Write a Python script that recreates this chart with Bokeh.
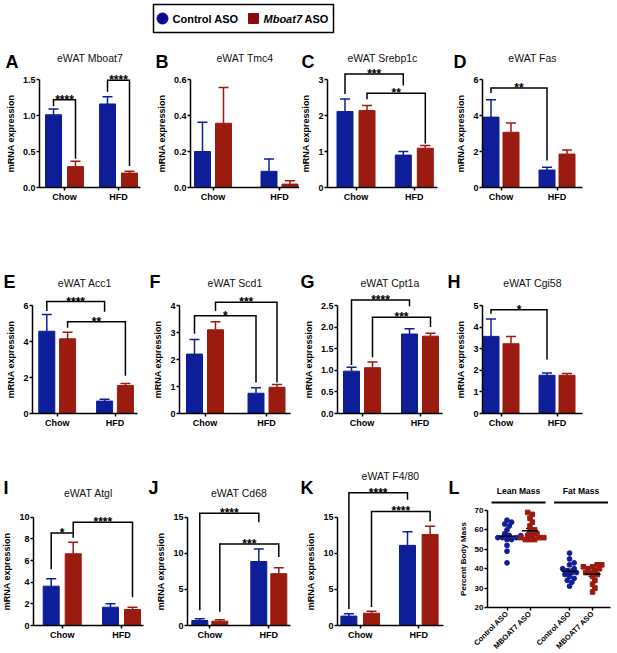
import math
from bokeh.plotting import figure
from bokeh.layouts import row, column
from bokeh.models import (Range1d, FixedTicker, NumeralTickFormatter, Label,
                          Whisker, TeeHead, ColumnDataSource)
from bokeh.core.properties import value
from bokeh.embed import file_html
from bokeh.resources import INLINE

FONT = "Liberation Sans"
FONT_V = value(FONT)
BLUE = "#0E1E98"
RED = "#9B1B10"

# ---------------- data ----------------
groups = ["Chow", "HFD"]
series = ["Control ASO", "Mboat7 ASO"]

mboat7_ctrl = [1.01, 1.16]; mboat7_ctrl_err = [0.08, 0.10]
mboat7_aso = [0.29, 0.20];  mboat7_aso_err = [0.075, 0.025]
tmc4_ctrl = [0.20, 0.09];   tmc4_ctrl_err = [0.163, 0.068]
tmc4_aso = [0.357, 0.019];  tmc4_aso_err = [0.198, 0.018]
srebp_ctrl = [2.11, 0.90];  srebp_ctrl_err = [0.35, 0.10]
srebp_aso = [2.14, 1.09];   srebp_aso_err = [0.14, 0.08]
fas_ctrl = [3.91, 0.97];    fas_ctrl_err = [0.96, 0.15]
fas_aso = [3.07, 1.86];     fas_aso_err = [0.52, 0.22]
acc1_ctrl = [4.57, 0.69];   acc1_ctrl_err = [0.93, 0.10]
acc1_aso = [4.15, 1.55];    acc1_aso_err = [0.37, 0.11]
scd1_ctrl = [2.20, 0.75];   scd1_ctrl_err = [0.54, 0.20]
scd1_aso = [3.10, 0.97];    scd1_aso_err = [0.30, 0.10]
cpt1a_ctrl = [0.98, 1.84];  cpt1a_ctrl_err = [0.09, 0.12]
cpt1a_aso = [1.06, 1.79];   cpt1a_aso_err = [0.13, 0.07]
cgi58_ctrl = [3.57, 1.77];  cgi58_ctrl_err = [0.81, 0.11]
cgi58_aso = [3.23, 1.77];   cgi58_aso_err = [0.34, 0.08]
atgl_ctrl = [3.63, 1.69];   atgl_ctrl_err = [0.68, 0.31]
atgl_aso = [6.62, 1.48];    atgl_aso_err = [1.07, 0.21]
cd68_ctrl = [0.69, 8.86];   cd68_ctrl_err = [0.23, 1.74]
cd68_aso = [0.60, 7.18];    cd68_aso_err = [0.18, 0.82]
f480_ctrl = [1.30, 11.10];  f480_ctrl_err = [0.32, 1.90]
f480_aso = [1.70, 12.60];   f480_aso_err = [0.29, 1.15]

# significance brackets: (group a, series a, group b, series b, bracket y, leg a end, leg b end, label)
br_mboat7 = [("Chow", 0, "Chow", 1, 1.22, 1.13, 0.40, "****"),
             ("HFD", 0, "HFD", 1, 1.49, 1.33, 0.30, "****")]
br_tmc4 = []
br_srebp = [("Chow", 0, "HFD", 0, 3.15, 2.60, 2.83, "***"),
            ("Chow", 1, "HFD", 1, 2.62, 2.45, 1.22, "**")]
br_fas = [("Chow", 0, "HFD", 0, 5.53, 5.25, 1.50, "**")]
br_acc1 = [("Chow", 0, "HFD", 0, 6.22, 5.70, 5.65, "****"),
           ("Chow", 1, "HFD", 1, 5.10, 4.76, 2.10, "**")]
br_scd1 = [("Chow", 0, "HFD", 0, 3.62, 2.95, 1.15, "*"),
           ("Chow", 1, "HFD", 1, 4.12, 3.80, 1.15, "***")]
br_cpt1a = [("Chow", 0, "HFD", 0, 2.63, 1.12, 2.48, "****"),
            ("Chow", 1, "HFD", 1, 2.23, 1.30, 2.00, "***")]
br_cgi58 = [("Chow", 0, "HFD", 0, 4.80, 4.62, 2.50, "*")]
br_atgl = [("Chow", 0, "Chow", 1, 8.55, 5.20, 8.10, "*"),
           ("Chow", 1, "HFD", 1, 9.54, 8.55, 2.60, "****")]
br_cd68 = [("Chow", 0, "HFD", 0, 15.56, 2.10, 14.30, "****"),
           ("Chow", 1, "HFD", 1, 11.30, 1.90, 9.50, "***")]
br_f480 = [("Chow", 0, "HFD", 0, 18.40, 2.30, 17.40, "****"),
           ("Chow", 1, "HFD", 1, 15.80, 2.55, 14.40, "****")]

ticks_mboat7 = [0, 0.5, 1.0, 1.5]
ticks_tmc4 = [0, 0.2, 0.4, 0.6]
ticks_srebp = [0, 1, 2, 3]
ticks_fas = [0, 2, 4, 6]
ticks_acc1 = [0, 2, 4, 6]
ticks_scd1 = [0, 1, 2, 3, 4]
ticks_cpt1a = [0, 0.5, 1.0, 1.5, 2.0, 2.5]
ticks_cgi58 = [0, 1, 2, 3, 4, 5]
ticks_atgl = [0, 2, 4, 6, 8, 10]
ticks_cd68 = [0, 5, 10, 15]
ticks_f480 = [0, 5, 10, 15]

# body composition (percent body mass)
comp_groups = ["Lean Mass", "Fat Mass"]
comp_series = ["Control ASO", "MBOAT7 ASO"]
lean_ctrl = [65, 64, 63, 62, 60, 58, 57, 57, 56, 56, 56, 55, 55, 52, 49, 43]
lean_mb = [69, 68, 66, 64, 62, 60, 59, 58, 57, 57, 56, 56, 56, 55, 55, 55]
fat_ctrl = [48, 45, 43, 42, 40, 40, 39, 38, 38, 37, 36, 35, 34, 33, 31]
fat_mb = [42, 42, 41, 41, 40, 40, 39, 38, 38, 37, 36, 34, 32, 30, 28]
comp_ticks = [20, 30, 40, 50, 60, 70]

# ---------------- layout geometry (pixels, page coordinates) ----------------
COL_EDGES = [0, 147, 299, 446, 612]
ROWS = {
    1: dict(top=44, h=214, tick_top=79, zero=187, title=57, letter=61.5),
    2: dict(top=258, h=202, tick_top=305, zero=413, title=282, letter=281),
    3: dict(top=460, h=191, tick_top=516.7, zero=625, title=492, letter=487.5),
}
BAR_W = 16


def style_axis(ax, size="9px"):
    ax.axis_line_width = 1.5
    ax.axis_line_color = "black"
    ax.major_tick_line_width = 1.5
    ax.major_tick_line_color = "black"
    ax.major_tick_out = 3
    ax.major_tick_in = 0
    ax.minor_tick_line_color = None
    ax.major_label_text_font = FONT
    ax.major_label_text_font_style = "bold"
    ax.major_label_text_font_size = size
    ax.major_label_text_color = "black"
    ax.major_label_standoff = 1
    ax.axis_label_text_font = FONT
    ax.axis_label_text_font_style = "bold"
    ax.axis_label_text_font_size = size
    ax.axis_label_text_color = "black"
    ax.axis_label_standoff = 4


def base_fig(W, H, xr, yr):
    p = figure(width=W, height=H, x_range=Range1d(*xr), y_range=Range1d(*yr),
               title=None, toolbar_location=None, output_backend="svg",
               min_border_left=0, min_border_right=0, min_border_top=0, min_border_bottom=0)
    p.outline_line_color = None
    p.xgrid.visible = False
    p.ygrid.visible = False
    return p


def letter_label(x, y, text):
    return Label(x=x, y=y, text=text, text_align="left", text_baseline="middle",
                 text_font=FONT, text_font_style="bold", text_font_size="18px",
                 text_color="black")


def bar_panel(letter, title, ctrl, ctrl_err, aso, aso_err, yticks, fmt, brackets,
              geo, rownum, col, letter_x, title_y=None):
    rg = ROWS[rownum]
    pl, pr = COL_EDGES[col], COL_EDGES[col + 1]
    top, H = rg["top"], rg["h"]
    L, R, cc, hc, d = geo
    u = hc - cc
    tmax = yticks[-1]
    ppu = (rg["zero"] - rg["tick_top"]) / tmax

    def X(px):
        return (px - cc) / u

    def Y(py):
        return (rg["zero"] - py) / ppu

    p = base_fig(pr - pl, H, (X(pl), X(pr)), (Y(top + H), Y(top)))
    style_axis(p.xaxis[0])
    style_axis(p.yaxis[0])
    p.yaxis.fixed_location = X(L)
    p.yaxis.bounds = (0, tmax)
    p.yaxis.ticker = FixedTicker(ticks=yticks)
    p.yaxis.formatter = NumeralTickFormatter(format=fmt)
    p.yaxis.axis_label = "mRNA expression"
    p.xaxis.fixed_location = 0
    p.xaxis.bounds = (X(L), X(R))
    p.xaxis.ticker = FixedTicker(ticks=list(range(len(groups))))
    p.xaxis.major_label_overrides = {i: g for i, g in enumerate(groups)}

    off = d / u
    bw = BAR_W / u

    def sx(gname, s):
        return groups.index(gname) + (-off if s == 0 else off)

    for s, (means, errs, color) in enumerate([(ctrl, ctrl_err, BLUE), (aso, aso_err, RED)]):
        xs = [sx(g, s) for g in groups]
        src = ColumnDataSource(dict(x=xs, top=means,
                                    upper=[m + e for m, e in zip(means, errs)]))
        p.add_layout(Whisker(source=src, base="x", upper="upper", lower="top",
                             dimension="height", line_color=color, line_width=1.5,
                             upper_head=TeeHead(size=10, line_color=color, line_width=1.5),
                             lower_head=None))
        p.vbar(x="x", top="top", bottom=0, width=bw, source=src,
               fill_color=color, line_color=color, line_width=1)

    for (ga, sa, gb, sb, yl, ya, yb, lab) in brackets:
        xa, xb = sx(ga, sa), sx(gb, sb)
        p.multi_line(xs=[[xa, xa, xb, xb]], ys=[[ya, yl, yl, yb]],
                     line_color="black", line_width=1.5, line_join="miter")
        p.text(x=[(xa + xb) / 2], y=[yl], text=[lab], text_align="center",
               text_baseline="alphabetic", text_font=FONT_V, text_font_style="bold",
               text_font_size="12px", text_color="black")

    ty = rg["title"] if title_y is None else title_y
    p.add_layout(Label(x=X((L + R) / 2), y=Y(ty), text=title,
                       text_align="center", text_baseline="middle",
                       text_font=FONT, text_font_size="10.5px", text_color="#111111"))
    p.add_layout(letter_label(X(max(letter_x, pl + 1)), Y(rg["letter"]), letter))
    return p


def swarm(vals, ppu_y, ppu_x, step, mind):
    placed = []
    offs = [0.0] * len(vals)
    order = sorted(range(len(vals)), key=lambda i: vals[i])
    cands = [0.0]
    for j in range(1, 30):
        cands += [j * step, -j * step]
    for i in order:
        y = vals[i] * ppu_y
        chosen = cands[-1]
        for cx in cands:
            if all((cx - px) ** 2 + (y - py) ** 2 >= mind ** 2 for px, py in placed):
                chosen = cx
                break
        placed.append((chosen, y))
        offs[i] = chosen / ppu_x
    return offs


def comp_panel():
    rg = ROWS[3]
    pl, pr = COL_EDGES[3], COL_EDGES[4]
    top, H = rg["top"], rg["h"]
    L, R = 487, 610
    first_tick, unit = 506.5, 23.0
    gap = 2.72
    top_px, zero_px = 510, 607
    lo, hi = comp_ticks[0], comp_ticks[-1]
    ppu = (zero_px - top_px) / (hi - lo)

    def X(px):
        return (px - first_tick) / unit

    def Y(py):
        return lo + (zero_px - py) / ppu

    p = base_fig(pr - pl, H, (X(pl), X(pr)), (Y(top + H), Y(top)))
    style_axis(p.xaxis[0], "8px")
    style_axis(p.yaxis[0], "8px")
    p.xaxis.major_label_text_font_size = "7.5px"
    p.xaxis.major_label_standoff = 2
    p.yaxis.fixed_location = X(L)
    p.yaxis.bounds = (lo, hi)
    p.yaxis.ticker = FixedTicker(ticks=comp_ticks)
    p.yaxis.axis_label = "Percent Body Mass"
    p.xaxis.fixed_location = lo
    p.xaxis.bounds = (X(L), X(R))
    positions = []
    labels = {}
    for gi, g in enumerate(comp_groups):
        for si, s in enumerate(comp_series):
            xpos = gi * gap + si
            positions.append(xpos)
            labels[xpos] = s
    p.xaxis.ticker = FixedTicker(ticks=positions)
    p.xaxis.major_label_overrides = labels
    p.xaxis.major_label_orientation = math.pi / 4

    sets = [(lean_ctrl, 0, 0), (lean_mb, 0, 1), (fat_ctrl, 1, 0), (fat_mb, 1, 1)]
    for vals, gi, si in sets:
        xc = gi * gap + si
        offs = swarm(vals, ppu, unit, 2.3, 4.0)
        xs = [xc + o for o in offs]
        if si == 0:
            p.scatter(x=xs, y=vals, marker="circle", size=4.8, color=BLUE)
        else:
            p.scatter(x=xs, y=vals, marker="square", size=4.6, color=RED)
        n = len(vals)
        m = sum(vals) / n
        sd = math.sqrt(sum((v - m) ** 2 for v in vals) / (n - 1))
        sem = sd / math.sqrt(n)
        half = 8 / unit
        p.segment(x0=[xc - half], y0=[m], x1=[xc + half], y1=[m],
                  line_color="black", line_width=1.5)
        src = ColumnDataSource(dict(x=[xc], lo=[m - sem], hi=[m + sem]))
        p.add_layout(Whisker(source=src, base="x", upper="hi", lower="lo", dimension="height",
                             line_color="black", line_width=1.2,
                             upper_head=TeeHead(size=8, line_color="black", line_width=1.2),
                             lower_head=TeeHead(size=8, line_color="black", line_width=1.2)))

    for gi, g in enumerate(comp_groups):
        gc = gi * gap + (len(comp_series) - 1) / 2
        p.add_layout(Label(x=gc, y=Y(490), text=g, text_align="center",
                           text_baseline="middle", text_font=FONT, text_font_style="bold",
                           text_font_size="8.5px", text_color="black"))
        half = 27 / unit
        p.segment(x0=[gc - half], y0=[Y(502)], x1=[gc + half], y1=[Y(502)],
                  line_color="black", line_width=2)
    p.add_layout(letter_label(X(448), Y(rg["letter"]), "L"))
    return p


def legend_fig():
    p = base_fig(612, 44, (0, 612), (44, 0))
    p.xaxis.visible = False
    p.yaxis.visible = False
    p.rect(x=[243], y=[18], width=[180], height=[28], fill_color=None,
           line_color="black", line_width=1.5)
    p.scatter(x=[162], y=[18], marker="circle", size=11, color="#0A0A8C")
    p.scatter(x=[253], y=[18], marker="square", size=10, color="#8C0A0A")
    p.text(x=[172], y=[18], text=[series[0]], text_baseline="middle", text_align="left",
           text_font=FONT_V, text_font_style="bold", text_font_size="11px", text_color="black")
    p.text(x=[263], y=[18], text=[series[1].split(" ")[0]], text_baseline="middle",
           text_align="left", text_font=FONT_V, text_font_style="bold italic",
           text_font_size="11px", text_color="black")
    p.text(x=[304], y=[18], text=[series[1].split(" ")[1]], text_baseline="middle",
           text_align="left", text_font=FONT_V, text_font_style="bold",
           text_font_size="11px", text_color="black")
    return p


pA = bar_panel("A", "eWAT Mboat7", mboat7_ctrl, mboat7_ctrl_err, mboat7_aso, mboat7_aso_err,
               ticks_mboat7, "0.0", br_mboat7, (39, 140, 64, 118, 11), 1, 0, 5)
pB = bar_panel("B", "eWAT Tmc4", tmc4_ctrl, tmc4_ctrl_err, tmc4_aso, tmc4_aso_err,
               ticks_tmc4, "0.0", br_tmc4, (190, 299, 212.5, 279, 10.5), 1, 1, 155)
pC = bar_panel("C", "eWAT Srebp1c", srebp_ctrl, srebp_ctrl_err, srebp_aso, srebp_aso_err,
               ticks_srebp, "0", br_srebp, (327, 437, 355.5, 413.8, 11), 1, 2, 301)
pD = bar_panel("D", "eWAT Fas", fas_ctrl, fas_ctrl_err, fas_aso, fas_aso_err,
               ticks_fas, "0", br_fas, (482, 582, 500.5, 556.5, 10), 1, 3, 453)
pE = bar_panel("E", "eWAT Acc1", acc1_ctrl, acc1_ctrl_err, acc1_aso, acc1_aso_err,
               ticks_acc1, "0", br_acc1, (32, 137, 56.7, 114.5, 10.4), 2, 0, 3)
pF = bar_panel("F", "eWAT Scd1", scd1_ctrl, scd1_ctrl_err, scd1_aso, scd1_aso_err,
               ticks_scd1, "0", br_scd1, (179, 290, 204.5, 266, 10.5), 2, 1, 149)
pG = bar_panel("G", "eWAT Cpt1a", cpt1a_ctrl, cpt1a_ctrl_err, cpt1a_aso, cpt1a_aso_err,
               ticks_cpt1a, "0.0", br_cpt1a, (337, 442, 361.5, 419.5, 10.5), 2, 2, 300)
pH = bar_panel("H", "eWAT Cgi58", cgi58_ctrl, cgi58_ctrl_err, cgi58_aso, cgi58_aso_err,
               ticks_cgi58, "0", br_cgi58, (482, 582, 500.5, 556.5, 10), 2, 3, 447)
pI = bar_panel("I", "eWAT Atgl", atgl_ctrl, atgl_ctrl_err, atgl_aso, atgl_aso_err,
               ticks_atgl, "0", br_atgl, (33, 143, 61.7, 121, 11), 3, 0, 3)
pJ = bar_panel("J", "eWAT Cd68", cd68_ctrl, cd68_ctrl_err, cd68_aso, cd68_aso_err,
               ticks_cd68, "0", br_cd68, (187, 290, 209.3, 268.3, 10), 3, 1, 148)
pK = bar_panel("K", "eWAT F4/80", f480_ctrl, f480_ctrl_err, f480_aso, f480_aso_err,
               ticks_f480, "0", br_f480, (337, 443, 359.7, 418.3, 11.3), 3, 2, 300,
               title_y=475)
pL = comp_panel()

layout = column(legend_fig(), row(pA, pB, pC, pD), row(pE, pF, pG, pH), row(pI, pJ, pK, pL))
open("out.html", "w").write(file_html(layout, INLINE))
